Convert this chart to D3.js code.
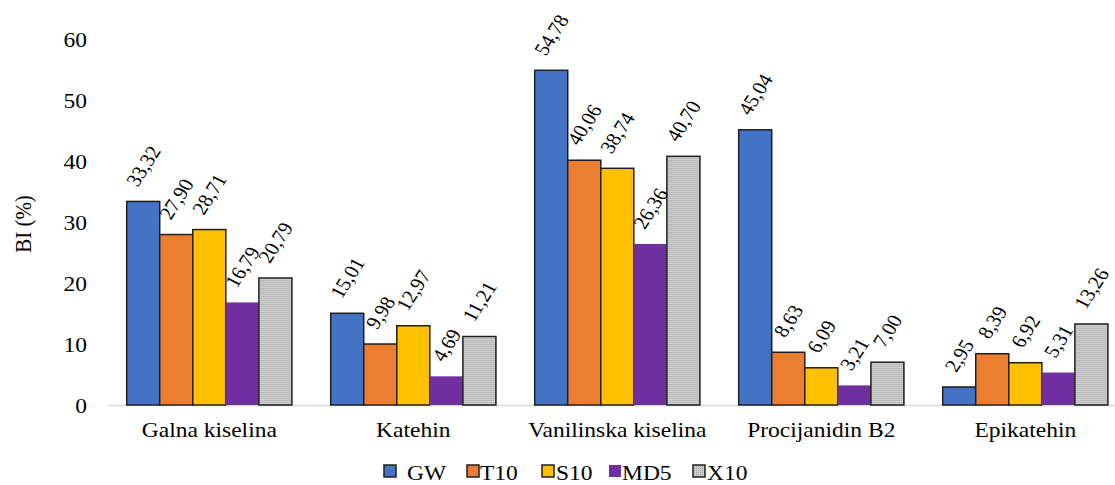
<!DOCTYPE html>
<html>
<head>
<meta charset="utf-8">
<script src="https://cdn.jsdelivr.net/npm/d3@7"></script>
<style>
  html, body { margin: 0; padding: 0; background: #fff; }
  svg { display: block; }
  text { font-family: "Liberation Serif", "Times New Roman", serif; fill: #000; }
</style>
</head>
<body>
<svg id="chart" width="1115" height="485"></svg>
<script>
const categories = ["Galna kiselina", "Katehin", "Vanilinska kiselina", "Procijanidin B2", "Epikatehin"];
const seriesNames = ["GW", "T10", "S10", "MD5", "X10"];
const GW  = [33.32, 15.01, 54.78, 45.04, 2.95];
const T10 = [27.90, 9.98, 40.06, 8.63, 8.39];
const S10 = [28.71, 12.97, 38.74, 6.09, 6.92];
const MD5 = [16.79, 4.69, 26.36, 3.21, 5.31];
const X10 = [20.79, 11.21, 40.70, 7.00, 13.26];
const yTicks = [0, 10, 20, 30, 40, 50, 60];
const yTitle = "BI (%)";

const seriesValues = [GW, T10, S10, MD5, X10];
const colors = ["#4472C4", "#ED7D31", "#FFC000", "#7030A0", "url(#dots)"];
const strokes = ["#1f1f1f", "#1f1f1f", "#1f1f1f", "none", "#1f1f1f"];

const W = 1115, H = 485;
const SX = 1.12;            // horizontal text stretch
const fsAxis = 21, fsLabel = 19;
const svg = d3.select("#chart");

// pattern for X10
const defs = svg.append("defs");
const pat = defs.append("pattern").attr("id", "dots").attr("patternUnits", "userSpaceOnUse")
  .attr("width", 2).attr("height", 2);
pat.append("rect").attr("width", 2).attr("height", 2).attr("fill", "#cdcdcd");
pat.append("rect").attr("width", 1).attr("height", 1).attr("fill", "#a9a9a9");

const x0 = d3.scaleBand().domain(categories).range([107.3, 1127.3]).paddingInner(0.19).paddingOuter(0.095);
const x1 = d3.scaleBand().domain(seriesNames).range([0, x0.bandwidth()]);
const y = d3.scaleLinear().domain([0, 60]).range([405, 38.4]);

// x axis
const xAxis = svg.append("g").attr("transform", `translate(0,${y(0)})`)
  .call(d3.axisBottom(x0).tickSize(0).tickSizeOuter(0).tickPadding(17));
xAxis.select(".domain").attr("stroke", "#d9d9d9").attr("stroke-width", 1.3);
xAxis.selectAll("text").attr("font-size", fsAxis).attr("font-family", "Liberation Serif")
  .attr("transform", `scale(${SX},1)`);

// y axis
const yAxis = svg.append("g").attr("transform", `translate(107,0)`)
  .call(d3.axisLeft(y).tickValues(yTicks).tickSize(0).tickFormat(d3.format("d")));
yAxis.select(".domain").remove();
yAxis.selectAll("text").attr("font-size", fsAxis).attr("font-family", "Liberation Serif")
  .attr("x", -20 / SX).attr("dy", "0.37em").attr("transform", `scale(${SX},1)`);

// y title
svg.append("text").attr("transform", `translate(23,224) scale(${SX},1) rotate(-90)`)
  .attr("text-anchor", "middle").attr("dominant-baseline", "central")
  .attr("font-size", fsAxis).text(yTitle);

// bars
const groups = svg.append("g").selectAll("g").data(categories).join("g")
  .attr("transform", d => `translate(${x0(d)},0)`);

const fmt = v => d3.format(".2f")(v).replace(".", ",");
const ang = 60, rad = ang * Math.PI / 180;

groups.each(function(cat, ci) {
  const g = d3.select(this);
  seriesNames.forEach((s, si) => {
    const v = seriesValues[si][ci];
    g.append("rect")
      .attr("x", x1(s)).attr("width", x1.bandwidth())
      .attr("y", y(v)).attr("height", y(0) - y(v))
      .attr("fill", colors[si])
      .attr("stroke", strokes[si]).attr("stroke-width", 1.5);
  });
});

// labels
groups.each(function(cat, ci) {
  const g = d3.select(this);
  seriesNames.forEach((s, si) => {
    const v = seriesValues[si][ci];
    const cx = x1(s) + x1.bandwidth() / 2;
    const t = g.append("text").attr("font-size", fsLabel)
      .attr("text-anchor", "middle").attr("dominant-baseline", "central")
      .text(fmt(v));
    const L = t.node().getComputedTextLength();
    const ext = L * Math.sin(rad) + fsLabel * 0.62 * Math.cos(rad);
    const cy = y(v) - 14 - ext / 2;
    t.attr("transform", `translate(${cx},${cy}) scale(${SX},1) rotate(${-ang})`);
  });
});

// legend
const legendSq = [384, 467, 542, 609, 693];
const legendTx = [407, 480, 556, 622, 707];
const leg = svg.append("g");
seriesNames.forEach((s, i) => {
  leg.append("rect").attr("x", legendSq[i]).attr("y", 465).attr("width", 12).attr("height", 12)
    .attr("fill", colors[i]).attr("stroke", strokes[i]).attr("stroke-width", 1.5);
  leg.append("text").attr("transform", `translate(${legendTx[i]},479.5) scale(${SX},1)`)
    .attr("font-size", fsAxis).text(s);
});
</script>
</body>
</html>
